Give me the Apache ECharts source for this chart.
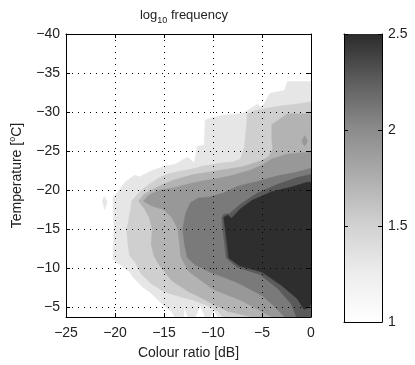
<!DOCTYPE html>
<html>
<head>
<meta charset="utf-8">
<script src="https://cdn.jsdelivr.net/npm/echarts@6/dist/echarts.min.js"></script>
<style>
  html, body { margin: 0; padding: 0; background: #fff; }
  #main { width: 415px; height: 365px; }
</style>
</head>
<body>
<div id="main"></div>
<script>
// axis ranges [min, max] and tick steps
const colourRatioRange = [-25, 0];
const temperatureRange = [-40, -3.75];
const colourbarRange = [1, 2.5];
const colourRatioStep = 5;
const temperatureStep = 5;
const colourbarStep = 0.5;

// filled contour outlines, [colour ratio dB, temperature degC]
const band1Outline = [[0,-33.9],[-2.4,-33.9],[-2.7,-32.8],[-4.2,-32.4],[-4.8,-31.0],[-5.2,-30.7],[-5.5,-31.0],[-6.7,-30.0],[-7.3,-29.8],[-9.0,-29.6],[-10.3,-29.2],[-10.8,-29.0],[-10.9,-25.8],[-11.6,-25.6],[-11.9,-23.5],[-12.6,-24.2],[-13.2,-23.8],[-13.9,-23.3],[-14.9,-23.1],[-16.2,-22.5],[-16.9,-22.1],[-17.5,-21.7],[-18.0,-21.9],[-19.0,-21.0],[-19.8,-19.6],[-20.2,-19.1],[-20.2,-17.5],[-20.1,-14.9],[-20.2,-12.4],[-20.2,-11.2],[-19.8,-10.7],[-19.3,-10.3],[-18.5,-9.5],[-18.2,-8.9],[-17.2,-7.6],[-16.5,-7.0],[-15.9,-6.3],[-15.4,-5.7],[-14.9,-5.1],[-14.2,-4.4],[-13.9,-3.75],[-13.0,-3.75],[-12.9,-5.0],[-12.6,-3.75],[-11.8,-3.75],[-11.3,-5.2],[-10.8,-3.75],[-10.3,-3.75],[-9.9,-4.6],[-9.5,-3.75],[0,-3.75]];
const band1Island = [[-21.1,-19.2],[-20.8,-18.5],[-21.05,-17.5],[-21.3,-18.6]];
const band2Outline = [[0,-31.3],[-1.6,-31.0],[-3.0,-30.8],[-4.6,-30.5],[-5.6,-30.2],[-6.5,-29.8],[-6.6,-28.0],[-6.8,-25.5],[-7.2,-24.0],[-8.0,-23.6],[-9.0,-23.5],[-10.0,-23.3],[-11.0,-23.1],[-11.8,-22.8],[-12.6,-22.6],[-13.5,-22.4],[-14.5,-22.1],[-15.3,-21.7],[-16.2,-21.0],[-17.0,-20.3],[-17.6,-19.6],[-18.3,-18.6],[-18.4,-17.6],[-18.6,-16.2],[-18.8,-15.0],[-18.7,-13.2],[-18.5,-11.6],[-17.9,-10.7],[-17.4,-9.4],[-16.3,-8.0],[-15.0,-7.0],[-13.5,-6.4],[-12.0,-5.9],[-10.5,-5.2],[-9.5,-4.5],[-9.0,-3.75],[0,-3.75]];
const band3Outline = [[0,-29.8],[-2.4,-29.8],[-3.3,-29.0],[-4.0,-28.4],[-4.0,-26.5],[-3.9,-25.3],[-4.3,-24.3],[-5.0,-23.8],[-7.0,-23.0],[-10.0,-22.4],[-12.0,-22.0],[-14.0,-21.3],[-15.5,-20.5],[-16.3,-20.0],[-17.0,-19.5],[-17.6,-18.6],[-17.0,-17.6],[-16.5,-16.5],[-16.2,-15.0],[-16.3,-13.0],[-16.0,-11.5],[-15.5,-10.4],[-14.2,-8.4],[-12.5,-7.0],[-11.0,-6.1],[-10.0,-5.4],[-8.5,-4.5],[-6.0,-3.75],[0,-3.75]];
const band4Outline = [[0,-24.9],[-1.0,-24.8],[-2.5,-24.6],[-4.0,-24.0],[-5.0,-23.2],[-6.3,-22.5],[-8.0,-21.9],[-9.5,-21.5],[-11.0,-21.2],[-12.5,-20.8],[-14.0,-20.3],[-15.5,-20.0],[-16.5,-19.4],[-17.1,-18.6],[-16.3,-18.0],[-15.0,-17.5],[-14.2,-16.5],[-13.6,-15.0],[-13.4,-13.0],[-13.3,-11.5],[-12.5,-9.6],[-10.0,-7.3],[-7.0,-5.8],[-4.0,-3.75],[0,-3.75]];
const band4Island = [[-0.65,-27.0],[-0.35,-26.3],[-0.65,-25.6],[-0.95,-26.3]];
const band5Outline = [[0,-22.8],[-1.5,-22.3],[-3.5,-21.8],[-5.5,-21.1],[-7.5,-20.5],[-9.0,-19.6],[-10.5,-19.1],[-11.5,-19.0],[-12.3,-18.4],[-12.8,-17.0],[-13.1,-15.0],[-12.9,-13.0],[-12.6,-11.3],[-11.8,-10.4],[-10.3,-9.5],[-7.6,-8.2],[-5.0,-6.5],[-3.8,-5.2],[-2.7,-3.75],[0,-3.75]];
const band6Outline = [[0,-22.0],[-1.5,-21.6],[-3.5,-20.7],[-5.5,-19.6],[-7.2,-18.2],[-8.3,-17.0],[-8.9,-16.9],[-9.1,-16.5],[-8.95,-14.5],[-8.65,-11.3],[-7.5,-10.1],[-5.2,-9.2],[-3.4,-7.4],[-2.0,-5.4],[-1.5,-3.75],[0,-3.75]];
const band7Outline = [[0,-21.0],[-0.4,-21.0],[-2.0,-20.4],[-4.0,-19.8],[-6.0,-18.7],[-7.2,-17.6],[-8.1,-16.4],[-8.5,-16.8],[-8.9,-16.5],[-8.7,-14.5],[-8.4,-11.3],[-7.3,-10.3],[-5.0,-9.5],[-3.0,-7.8],[-1.4,-6.1],[-0.7,-4.7],[-0.2,-5.0],[0,-5.5]];

const bandColours = ['#e6e6e6', '#cfcfcf', '#b3b3b3', '#989898', '#7a7a7a', '#5a5a5a', '#2e2e2e'];

// drawn in this order, lowest level first
const contourPolygons = [
  {band: 0, outline: band1Outline},
  {band: 0, outline: band1Island},
  {band: 1, outline: band2Outline},
  {band: 2, outline: band3Outline},
  {band: 3, outline: band4Outline},
  {band: 3, outline: band4Island},
  {band: 4, outline: band5Outline},
  {band: 5, outline: band6Outline},
  {band: 6, outline: band7Outline}
];

const FONT = 'Liberation Sans, Arial, Helvetica, sans-serif';
const minus = v => String(v).replace('-', '\u2212');

const myChart = echarts.init(document.getElementById('main'));

const tickInside = {show: true, inside: true, length: 4, lineStyle: {color: '#000', width: 1}};
const dotted = {show: true, lineStyle: {color: '#000', width: 1, type: [1, 5]}};

const option = {
  animation: false,
  backgroundColor: '#fff',
  textStyle: {fontFamily: FONT},
  graphic: [{
    type: 'text',
    x: 184,
    y: 15,
    style: {
      text: '{a|log}{b|10}{a| frequency}',
      align: 'center',
      verticalAlign: 'middle',
      fill: '#222',
      rich: {
        a: {fontSize: 13, lineHeight: 20, verticalAlign: 'middle', fontFamily: FONT, fill: '#222'},
        b: {fontSize: 9, lineHeight: 9, verticalAlign: 'bottom', fontFamily: FONT, fill: '#222'}
      }
    }
  }],
  grid: [
    {left: 58, top: 34, width: 253, height: 288, show: false},
    {left: 344, top: 34, width: 38, height: 288, show: false}
  ],
  xAxis: [
    {
      type: 'value', gridIndex: 0, min: colourRatioRange[0], max: colourRatioRange[1], interval: colourRatioStep,
      position: 'bottom', z: 5,
      axisLine: {show: true, onZero: false, lineStyle: {color: '#000', width: 1}},
      axisTick: tickInside,
      axisLabel: {color: '#222', fontSize: 14, margin: 9, formatter: minus},
      splitLine: dotted,
      name: 'Colour ratio [dB]', nameLocation: 'middle', nameGap: 29,
      nameTextStyle: {color: '#222', fontSize: 14}
    },
    {
      type: 'value', gridIndex: 0, min: colourRatioRange[0], max: colourRatioRange[1], interval: colourRatioStep,
      position: 'top', z: 5,
      axisLine: {show: true, onZero: false, lineStyle: {color: '#000', width: 1}},
      axisTick: tickInside,
      axisLabel: {show: false},
      splitLine: {show: false}
    },
    {
      type: 'value', gridIndex: 1, min: 0, max: 1, position: 'bottom',
      axisLine: {show: true, onZero: false, lineStyle: {color: '#000', width: 1}},
      axisTick: {show: false}, axisLabel: {show: false}, splitLine: {show: false}
    },
    {
      type: 'value', gridIndex: 1, min: 0, max: 1, position: 'top',
      axisLine: {show: true, onZero: false, lineStyle: {color: '#000', width: 1}},
      axisTick: {show: false}, axisLabel: {show: false}, splitLine: {show: false}
    }
  ],
  yAxis: [
    {
      type: 'value', gridIndex: 0, inverse: true, min: temperatureRange[0], max: temperatureRange[1], interval: temperatureStep,
      position: 'left', z: 5,
      axisLine: {show: true, onZero: false, lineStyle: {color: '#000', width: 1}},
      axisTick: tickInside,
      axisLabel: {color: '#222', fontSize: 14, margin: 6, formatter: minus, showMaxLabel: false},
      splitLine: dotted,
      name: '{a|Temperature [}{s|o}{a|C]}', nameLocation: 'middle', nameGap: 40, nameRotate: 90,
      nameTextStyle: {
        color: '#222', fontSize: 14,
        rich: {
          a: {fontSize: 14, lineHeight: 18, verticalAlign: 'middle', color: '#222'},
          s: {fontSize: 9, lineHeight: 9, verticalAlign: 'top', color: '#222'}
        }
      }
    },
    {
      type: 'value', gridIndex: 0, inverse: true, min: temperatureRange[0], max: temperatureRange[1], interval: temperatureStep,
      position: 'right', z: 5,
      axisLine: {show: true, onZero: false, lineStyle: {color: '#000', width: 1}},
      axisTick: tickInside,
      axisLabel: {show: false},
      splitLine: {show: false}
    },
    {
      type: 'value', gridIndex: 1, min: colourbarRange[0], max: colourbarRange[1], interval: colourbarStep,
      position: 'right', z: 5,
      axisLine: {show: true, onZero: false, lineStyle: {color: '#000', width: 1}},
      axisTick: tickInside,
      axisLabel: {color: '#222', fontSize: 14, margin: 6},
      splitLine: {show: false}
    },
    {
      type: 'value', gridIndex: 1, min: colourbarRange[0], max: colourbarRange[1], interval: colourbarStep,
      position: 'left', z: 5,
      axisLine: {show: true, onZero: false, lineStyle: {color: '#000', width: 1}},
      axisTick: tickInside,
      axisLabel: {show: false},
      splitLine: {show: false}
    }
  ],
  series: [
    {
      name: 'contours',
      type: 'custom',
      coordinateSystem: 'cartesian2d',
      xAxisIndex: 0,
      yAxisIndex: 0,
      z: 1,
      clip: true,
      silent: true,
      data: contourPolygons.map(p => p.outline[0]),
      renderItem: function (params, api) {
        const poly = contourPolygons[params.dataIndex];
        const pts = poly.outline.map(p => api.coord(p));
        const c = bandColours[poly.band];
        return {
          type: 'polygon',
          shape: {points: pts},
          style: {fill: c, stroke: c, lineWidth: 0.5}
        };
      }
    },
    {
      name: 'colourbar',
      type: 'custom',
      coordinateSystem: 'cartesian2d',
      xAxisIndex: 2,
      yAxisIndex: 2,
      z: 1,
      silent: true,
      data: [[0, colourbarRange[1]]],
      renderItem: function (params, api) {
        const topLeft = api.coord([0, colourbarRange[1]]);
        const bottomRight = api.coord([1, colourbarRange[0]]);
        return {
          type: 'rect',
          shape: {x: topLeft[0], y: topLeft[1], width: bottomRight[0] - topLeft[0], height: bottomRight[1] - topLeft[1]},
          style: {
            fill: {
              type: 'linear', x: 0, y: 1, x2: 0, y2: 0,
              colorStops: [
                {offset: 0, color: '#ffffff'},
                {offset: 0.167, color: '#ededed'},
                {offset: 0.333, color: '#d2d2d2'},
                {offset: 0.5, color: '#aeaeae'},
                {offset: 0.667, color: '#8c8c8c'},
                {offset: 0.833, color: '#5e5e5e'},
                {offset: 1, color: '#2b2b2b'}
              ]
            }
          }
        };
      }
    }
  ]
};

myChart.setOption(option);
</script>
</body>
</html>
